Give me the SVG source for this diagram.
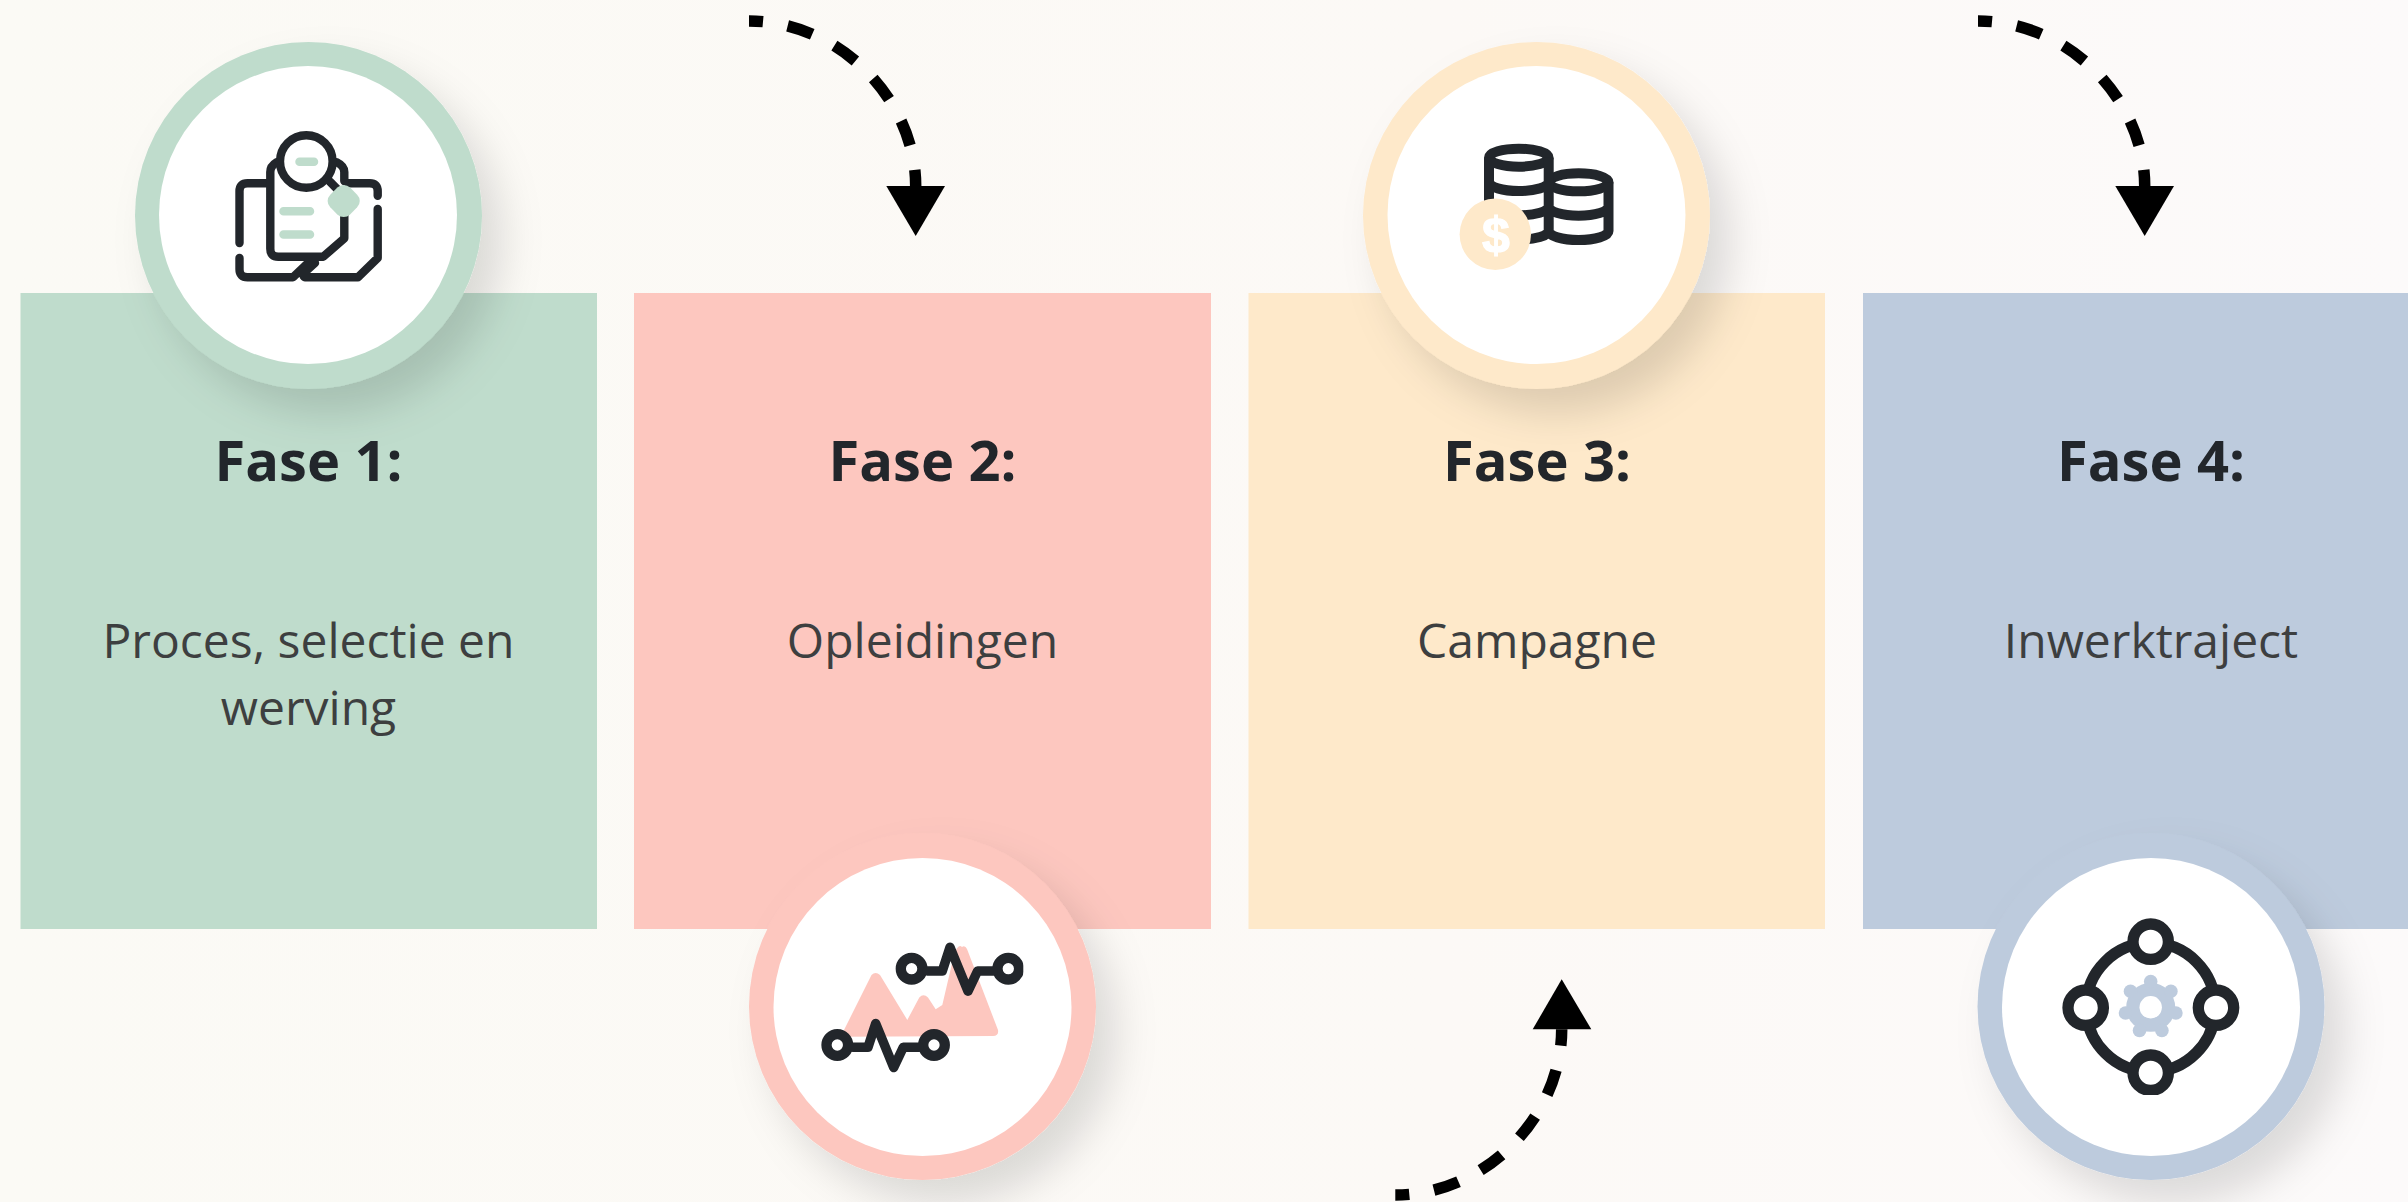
<svg xmlns="http://www.w3.org/2000/svg" width="2408" height="1202" viewBox="0 0 2408 1202">
<style>
.h{font:700 56px "Open Sans",sans-serif;fill:#22262b;text-anchor:middle}
.b{font:400 48px "Open Sans",sans-serif;fill:#3d3f40;text-anchor:middle}
.i{fill:none;stroke:#22262b;stroke-width:8.4;stroke-linecap:round;stroke-linejoin:round}
.c{fill:none;stroke:#22262b;stroke-width:10;stroke-linecap:butt}
.d{fill:none;stroke:#000;stroke-width:11.5}
.w{fill:#fff}
</style>
<defs>
<linearGradient id="bg" x1="0" y1="0" x2="1" y2="0"><stop offset="0" stop-color="#fbfaf5"/><stop offset=".6" stop-color="#fcf9f6"/><stop offset="1" stop-color="#fcfafa"/></linearGradient>
<filter id="s" x="-30%" y="-30%" width="180%" height="180%"><feDropShadow dx="20" dy="24" stdDeviation="20" flood-color="#000" flood-opacity=".13"/></filter>
<clipPath id="c2"><rect x="800" y="900" width="223.300" height="200"/></clipPath>
<clipPath id="c4"><rect x="2050" y="900" width="228.300" height="195"/></clipPath>
</defs>
<rect width="2408" height="1202" fill="url(#bg)"/>
<g id="connectors">
<path class="d" stroke-dasharray="26 25" stroke-dashoffset="12" d="M749 21C840 21 915.700 100 915.700 186"/>
<path class="d" stroke-dasharray="26 25" stroke-dashoffset="12" d="M1978 21C2069 21 2144.700 100 2144.700 186"/>
<path class="d" stroke-dasharray="26 25" stroke-dashoffset="12" d="M1395.300 1195C1486 1195 1561.700 1116 1561.700 1029.300"/>
<polygon points="886.300,186 945,186 915.700,236"/>
<polygon points="2115.300,186 2174,186 2144.700,236"/>
<polygon points="1532.700,1029.300 1591.300,1029.300 1561.700,979.300"/>
</g>
<g id="fase1">
<rect x="20.500" y="293" width="576.500" height="636" fill="#bfdccc"/>
<text class="h" x="308.500" y="480.500">Fase 1:</text>
<text class="b" x="308.500" y="658">Proces, selectie en</text>
<text class="b" x="308.500" y="725">werving</text>
<circle cx="308.500" cy="215.500" r="173.500" fill="#bfdccc" filter="url(#s)"/>
<circle class="w" cx="308" cy="215" r="149"/>
<path class="i" d="M239.500 243V191.300Q239.500 183.300 247.500 183.300H266M348 183.300H369.700Q377.700 183.300 377.700 191.300V195.700M377.700 209V258L358 277.300H307Q302 277.300 304 273L315 263M239.500 258V269.300Q239.500 277.300 247.500 277.300H293L308 263"/>
<path class="i" d="M276.500 162.300Q270.300 166 270.300 172V248.700Q270.300 256.700 278.300 256.700H323.300L344.300 238.300V215M336.700 162.300Q344.300 166 344.300 172V181M330 181.700L342 194"/>
<circle class="i" cx="306.300" cy="161.500" r="26.300"/>
<rect x="329.700" y="187" width="28" height="28" rx="9" fill="#bfdccc" transform="rotate(45 343.700 201)"/>
<path d="M299.500 161.700H314M283.500 211.200H310M283.500 234.500H310" fill="none" stroke="#bfdccc" stroke-width="8.500" stroke-linecap="round"/>
</g>
<g id="fase2">
<rect x="634" y="293" width="577" height="636" fill="#fdc7bf"/>
<text class="h" x="922.500" y="480.500">Fase 2:</text>
<text class="b" x="922.500" y="658">Opleidingen</text>
<circle cx="922.500" cy="1006.500" r="173.500" fill="#fdc7bf" filter="url(#s)"/>
<circle class="w" cx="922.500" cy="1007" r="149"/>
<path d="M844 1030L871.500 975Q875.500 971 880 975L907.300 1020L919.300 997.500Q923.300 993 928 997.500L935.700 1009.300L942.300 1005L953.500 957Q957.500 943 962 947Q965 945 967 949L998 1030Q999 1036 993 1036L843 1036.700Z" fill="#fdc7bf"/>
<g clip-path="url(#c2)">
<g id="ecg"><circle cx="837.300" cy="1045" r="10.800" fill="none" stroke="#22262b" stroke-width="10.300"/><circle cx="934" cy="1045" r="10.800" fill="none" stroke="#22262b" stroke-width="10.300"/><path d="M853 1047.300H868L875.700 1023.500L893.700 1067.500L903.300 1047.300H919" fill="none" stroke="#22262b" stroke-width="9.500" stroke-linecap="round" stroke-linejoin="round"/></g>
<g transform="translate(74.300 -76.300)"><circle cx="837.300" cy="1045" r="10.800" fill="none" stroke="#22262b" stroke-width="10.300"/><circle cx="934" cy="1045" r="10.800" fill="none" stroke="#22262b" stroke-width="10.300"/><path d="M853 1047.300H868L875.700 1023.500L893.700 1067.500L903.300 1047.300H919" fill="none" stroke="#22262b" stroke-width="9.500" stroke-linecap="round" stroke-linejoin="round"/></g>
</g>
</g>
<g id="fase3">
<rect x="1248.500" y="293" width="576.500" height="636" fill="#fee9ca"/>
<text class="h" x="1537" y="480.500">Fase 3:</text>
<text class="b" x="1537" y="658">Campagne</text>
<circle cx="1536.500" cy="215.500" r="173.500" fill="#fee9ca" filter="url(#s)"/>
<circle class="w" cx="1536.500" cy="215" r="149"/>
<ellipse class="c" cx="1518.800" cy="157.700" rx="29.800" ry="9"/>
<ellipse class="c" cx="1578.700" cy="182.300" rx="29.800" ry="9"/>
<path class="c" d="M1489 157.700V230.700A29.800 9 0 0 0 1548.700 230.700V157.700M1489 182A29.800 9 0 0 0 1548.700 182M1489 206.300A29.800 9 0 0 0 1548.700 206.300M1608.500 182.300V231A29.800 9 0 0 1 1548.700 231M1548.700 206.700A29.800 9 0 0 0 1608.500 206.700"/>
<circle cx="1495.300" cy="234.300" r="35.700" fill="#fee9ca"/>
<text x="1495.800" y="251.500" font-family="'Liberation Sans',sans-serif" font-weight="700" font-size="50" fill="#fff" stroke="#fff" stroke-width="1.200" text-anchor="middle">$</text>
</g>
<g id="fase4">
<rect x="1863" y="293" width="545" height="636" fill="#bdcbdd"/>
<text class="h" x="2151" y="480.500">Fase 4:</text>
<text class="b" x="2151" y="658">Inwerktraject</text>
<circle cx="2151" cy="1006.500" r="173.500" fill="#bdcbdd" filter="url(#s)"/>
<circle class="w" cx="2151" cy="1007" r="149"/>
<g clip-path="url(#c4)" fill="#fff" stroke="#22262b">
<circle cx="2150.700" cy="1007.300" r="64.500" fill="none" stroke-width="11.500"/>
<circle cx="2150.700" cy="941.700" r="17.700" stroke-width="11.300"/>
<circle cx="2150.700" cy="1072.700" r="17.700" stroke-width="11.300"/>
<circle cx="2085.700" cy="1007.700" r="17.700" stroke-width="11.300"/>
<circle cx="2216" cy="1007.700" r="17.700" stroke-width="11.300"/>
</g>
<g transform="translate(2150.700 1007.300)" fill="#bdcbdd">
<circle r="24.500"/><circle cy="-25.800" r="6.800"/><circle cx="20.200" cy="-16.100" r="6.800"/><circle cx="25.200" cy="5.700" r="6.800"/><circle cx="11.200" cy="23.200" r="6.800"/><circle cx="-11.200" cy="23.200" r="6.800"/><circle cx="-25.200" cy="5.700" r="6.800"/><circle cx="-20.200" cy="-16.100" r="6.800"/>
<circle r="11.200" fill="#fff"/>
</g>
</g>
</svg>
